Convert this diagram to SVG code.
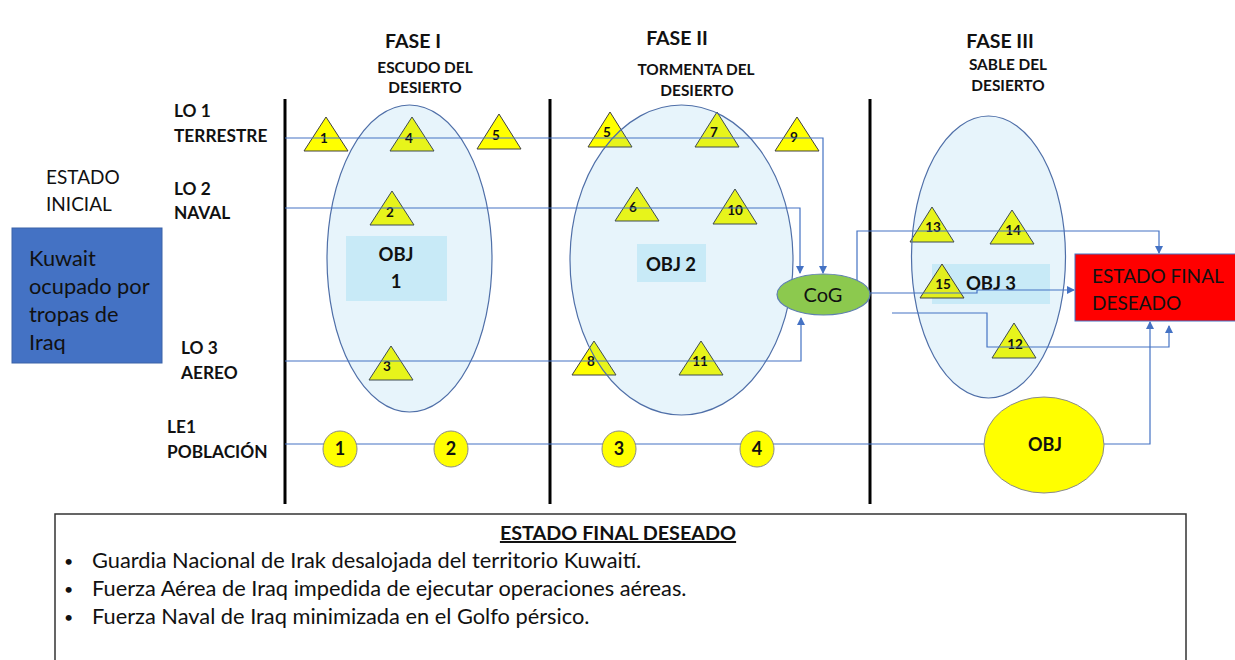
<svg xmlns="http://www.w3.org/2000/svg" width="1235" height="660" viewBox="0 0 1235 660">
<style>
text{font-family:Lato,"Liberation Sans",sans-serif;fill:#111}
.lbl{font-size:17.3px;font-weight:bold}
.ph{font-size:19.5px;font-weight:bold;text-anchor:middle}
.sub{font-size:15.4px;font-weight:bold;text-anchor:middle}
.reg{font-size:19px}
.kw{font-size:21.8px}
.sum{font-size:21.8px}
.tri{fill:#FFFF00;stroke:#404040;stroke-width:1}
.tn{font-size:13.5px;font-weight:bold;text-anchor:middle}
.cir{fill:#FFFF00;stroke:#8a8a8a;stroke-width:1}
.cn{font-size:18px;font-weight:bold;text-anchor:middle}
.ell{fill:#38A8E0;fill-opacity:0.12;stroke:#4F6FA8;stroke-width:1.2}
.box{fill:#8ED6F2;fill-opacity:0.35}
.objt{font-size:18.5px;font-weight:bold;text-anchor:middle}
.vl{stroke:#000;stroke-width:3}
.cn1{fill:none;stroke:#4472C4;stroke-width:1.2}
</style>
<defs>
<marker id="ar" markerWidth="8" markerHeight="8" refX="7" refY="4" orient="auto" markerUnits="userSpaceOnUse">
<path d="M0,0 L8,4 L0,8 Z" fill="#4472C4"/>
</marker>
</defs>
<rect width="1235" height="660" fill="#fff"/>

<g id="phase-dividers">
<line class="vl" x1="285" y1="99" x2="285" y2="504"/>
<line class="vl" x1="550" y1="99" x2="550" y2="504"/>
<line class="vl" x1="870" y1="99" x2="870" y2="504"/>
</g>

<g id="headers">
<text class="ph" x="413" y="48">FASE I</text>
<text class="sub" x="425" y="73">ESCUDO DEL</text>
<text class="sub" x="425" y="93">DESIERTO</text>
<text class="ph" x="677" y="45">FASE II</text>
<text class="sub" x="696" y="75">TORMENTA DEL</text>
<text class="sub" x="697" y="96">DESIERTO</text>
<text class="ph" x="1000" y="48">FASE III</text>
<text class="sub" x="1008" y="70">SABLE DEL</text>
<text class="sub" x="1008" y="91">DESIERTO</text>
</g>

<g id="line-labels">
<text class="lbl" x="174" y="117">LO 1</text>
<text class="lbl" x="174" y="142">TERRESTRE</text>
<text class="lbl" x="174" y="195">LO 2</text>
<text class="lbl" x="174" y="219">NAVAL</text>
<text class="lbl" x="181" y="354">LO 3</text>
<text class="lbl" x="181" y="379">AEREO</text>
<text class="lbl" x="167" y="433">LE1</text>
<text class="lbl" x="167" y="458">POBLACIÓN</text>
</g>

<g id="estado-inicial">
<text class="reg" x="46" y="184">ESTADO</text>
<text class="reg" x="46" y="211">INICIAL</text>
</g>

<g id="kuwait">
<rect x="12" y="228" width="150" height="135" fill="#4472C4" stroke="#3A62A8" stroke-width="1"/>
<text class="kw" x="29" y="266">Kuwait</text>
<text class="kw" x="29" y="294">ocupado por</text>
<text class="kw" x="29" y="322">tropas de</text>
<text class="kw" x="29" y="350">Iraq</text>
</g>

<g id="triangles">
<g id="t1"><polygon class="tri" points="326,117 348,151 304,151"/></g>
<g id="t4"><polygon class="tri" points="412,117 434,151 390,151"/></g>
<g id="t5a"><polygon class="tri" points="499,114 521,149 477,149"/></g>
<g id="t2"><polygon class="tri" points="392,191 414,225 370,225"/></g>
<g id="t3"><polygon class="tri" points="391,346 413,380 369,380"/></g>
<g id="t5b"><polygon class="tri" points="610,112 632,147 588,147"/></g>
<g id="t7"><polygon class="tri" points="717,112 739,147 695,147"/></g>
<g id="t9"><polygon class="tri" points="797,117 819,151 775,151"/></g>
<g id="t6"><polygon class="tri" points="637,187 659,221 615,221"/></g>
<g id="t10"><polygon class="tri" points="735,189 757,224 713,224"/></g>
<g id="t8"><polygon class="tri" points="594,341 616,375 572,375"/></g>
<g id="t11"><polygon class="tri" points="701,341 723,375 679,375"/></g>
<g id="t13"><polygon class="tri" points="932,207 954,242 910,242"/></g>
<g id="t14"><polygon class="tri" points="1012,210 1034,244 990,244"/></g>
<g id="t12"><polygon class="tri" points="1014,323 1036,358 992,358"/></g>
</g>

<g id="obj-areas">
<ellipse id="obj1-area" class="ell" cx="409.5" cy="258.5" rx="82.5" ry="153.5"/>
<ellipse id="obj2-area" class="ell" cx="681.5" cy="260" rx="111.5" ry="155"/>
<ellipse id="obj3-area" class="ell" cx="988.5" cy="257" rx="77" ry="141"/>
</g>

<g id="obj1"><rect class="box" x="346" y="236" width="101" height="65"/>
<text class="objt" x="396" y="261">OBJ</text><text class="objt" x="396" y="288">1</text></g>
<g id="obj2"><rect class="box" x="637" y="244" width="69" height="38"/>
<text class="objt" x="671" y="271">OBJ 2</text></g>
<g id="obj3"><rect class="box" x="932" y="264" width="118" height="40"/>
<text class="objt" x="991" y="290">OBJ 3</text></g>
<g id="t15"><polygon class="tri" points="942,264 964,298 920,298" style="fill:#E2EE1E"/></g>

<g id="tri-numbers">
<text class="tn" x="324" y="143">1</text>
<text class="tn" x="409" y="143">4</text>
<text class="tn" x="496" y="140">5</text>
<text class="tn" x="390" y="217">2</text>
<text class="tn" x="387" y="371">3</text>
<text class="tn" x="607" y="137">5</text>
<text class="tn" x="714" y="137">7</text>
<text class="tn" x="794" y="142">9</text>
<text class="tn" x="633" y="212">6</text>
<text class="tn" x="735" y="215">10</text>
<text class="tn" x="591" y="366">8</text>
<text class="tn" x="700" y="366">11</text>
<text class="tn" x="933" y="232">13</text>
<text class="tn" x="1013" y="235">14</text>
<text class="tn" x="943" y="289">15</text>
<text class="tn" x="1015" y="349">12</text>
</g>

<g id="connectors">
<polyline class="cn1" points="285,138 823,138 823,273" marker-end="url(#ar)"/>
<polyline class="cn1" points="285,208 800,208 800,273" marker-end="url(#ar)"/>
<polyline class="cn1" points="285,361 801,361 801,318" marker-end="url(#ar)"/>
<polyline class="cn1" points="857,280 857,231 1159,231 1159,253" marker-end="url(#ar)"/>
<polyline class="cn1" points="870,293 977,293 977,290 1074,290" marker-end="url(#ar)"/>
<polyline class="cn1" points="892,313 987,313 987,347 1169,347 1169,326" marker-end="url(#ar)"/>
<line class="cn1" x1="285" y1="444" x2="984" y2="444"/>
<polyline class="cn1" points="1104,444 1150,444 1150,322" marker-end="url(#ar)"/>
</g>

<g id="cog">
<ellipse cx="823.5" cy="294.5" rx="46.5" ry="20.5" fill="#8CC94E" stroke="#5E7FB0" stroke-width="1.2"/>
<text x="823" y="302" font-size="20" text-anchor="middle">CoG</text>
</g>

<g id="le-circles">
<g id="c1"><ellipse class="cir" cx="340" cy="449" rx="17" ry="18"/><text class="cn" x="340" y="455">1</text></g>
<g id="c2"><ellipse class="cir" cx="451" cy="449" rx="17" ry="18"/><text class="cn" x="451" y="455">2</text></g>
<g id="c3"><ellipse class="cir" cx="619" cy="449" rx="17" ry="18"/><text class="cn" x="619" y="455">3</text></g>
<g id="c4"><ellipse class="cir" cx="757" cy="449" rx="17" ry="18"/><text class="cn" x="757" y="455">4</text></g>
</g>

<g id="obj-le">
<ellipse cx="1044" cy="445" rx="60" ry="48" fill="#FFFF00" stroke="#8a8a8a" stroke-width="1"/>
<text class="cn" x="1045" y="451">OBJ</text>
</g>

<g id="estado-final">
<rect x="1075" y="254" width="165" height="67" fill="#FF0000" stroke="#4472C4" stroke-width="1"/>
<text class="reg" x="1092" y="283">ESTADO FINAL</text>
<text class="reg" x="1092" y="310">DESEADO</text>
</g>

<g id="summary">
<rect x="55" y="514" width="1131" height="160" fill="#fff" stroke="#333" stroke-width="1.5"/>
<text x="618" y="540" font-size="19.8" font-weight="bold" text-anchor="middle" text-decoration="underline">ESTADO FINAL DESEADO</text>
<text x="64" y="567" font-size="16">•</text>
<text class="sum" x="92" y="568">Guardia Nacional de Irak desalojada del territorio Kuwaití.</text>
<text x="64" y="595" font-size="16">•</text>
<text class="sum" x="92" y="596">Fuerza Aérea de Iraq impedida de ejecutar operaciones aéreas.</text>
<text x="64" y="623" font-size="16">•</text>
<text class="sum" x="92" y="624">Fuerza Naval de Iraq minimizada en el Golfo pérsico.</text>
</g>
</svg>
